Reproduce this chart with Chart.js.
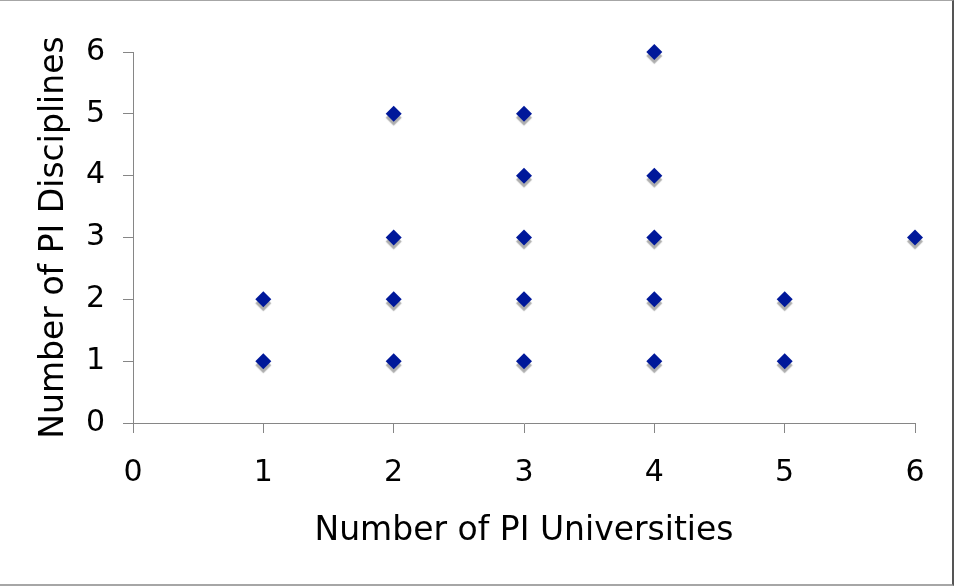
<!DOCTYPE html>
<html>
<head>
<meta charset="utf-8">
<script src="https://cdn.jsdelivr.net/npm/chart.js@4/dist/chart.umd.min.js"></script>
<style>
  html, body { margin: 0; padding: 0; background: #fff; }
  #wrap { position: relative; width: 954px; height: 586px; }
  #frame { position: absolute; left: 0; top: 0; width: 954px; height: 586px; box-sizing: border-box;
           border-top: 1px solid #a6a6a6; border-right: 2px solid #555;
           border-bottom: 2px solid #a6a6a6; pointer-events: none; }
  canvas { position: absolute; left: 0; top: 0; }
</style>
</head>
<body>
<div id="wrap">
  <canvas id="piChart" width="954" height="586"></canvas>
  <div id="frame"></div>
</div>
<script>
// PI universities vs PI disciplines
var universities = [1, 1, 2, 2, 2, 2, 3, 3, 3, 3, 3, 4, 4, 4, 4, 4, 5, 5, 6];
var disciplines  = [1, 2, 1, 2, 3, 5, 1, 2, 3, 4, 5, 1, 2, 3, 4, 6, 1, 2, 3];
var axisTicks = [0, 1, 2, 3, 4, 5, 6];

var points = [];
for (var i = 0; i < universities.length; i++) {
    points.push({ x: universities[i], y: disciplines[i] });
}

// grey drop shadow under the markers
var markerShadow = {
    id: 'markerShadow',
    beforeDatasetsDraw: function (chart) {
        var ctx = chart.ctx;
        ctx.save();
        ctx.shadowColor = 'rgba(120, 120, 120, 0.6)';
        ctx.shadowOffsetX = 0;
        ctx.shadowOffsetY = 4;
        ctx.shadowBlur = 1;
    },
    afterDatasetsDraw: function (chart) {
        chart.ctx.restore();
    }
};

var font = "'DejaVu Sans', Verdana, sans-serif";
var ctx = document.getElementById("piChart");
var myChart = new Chart(ctx, {
    type: 'scatter',
    data: {
        datasets: [{
            label: 'PI',
            data: points,
            pointStyle: 'rectRot',
            pointRadius: 8,
            pointHoverRadius: 8,
            backgroundColor: '#00189a',
            borderColor: '#00189a',
            borderWidth: 0,
            clip: false
        }]
    },
    options: {
        responsive: false,
        animation: false,
        events: [],
        layout: { padding: { left: 0, top: 52, right: 39, bottom: 0 } },
        plugins: { legend: { display: false }, tooltip: { enabled: false } },
        scales: {
            x: {
                type: 'linear',
                min: 0,
                max: 6,
                afterBuildTicks: function (scale) {
                    scale.ticks = axisTicks.map(function (v) { return { value: v }; });
                },
                afterFit: function (scale) { scale.height = 163; },
                border: { display: true, color: '#868686', width: 1 },
                grid: { drawOnChartArea: false, drawTicks: true, tickLength: 10, color: '#868686' },
                ticks: { color: '#000', padding: 22, font: { family: font, size: 30 } },
                title: {
                    display: true,
                    text: 'Number of PI Universities',
                    color: '#000',
                    padding: { top: 0, bottom: 35 },
                    font: { family: font, size: 33 }
                }
            },
            y: {
                type: 'linear',
                min: 0,
                max: 6,
                afterBuildTicks: function (scale) {
                    scale.ticks = axisTicks.map(function (v) { return { value: v }; });
                },
                afterFit: function (scale) { scale.width = 133; },
                border: { display: true, color: '#868686', width: 1 },
                grid: { drawOnChartArea: false, drawTicks: true, tickLength: 10, color: '#868686' },
                ticks: { color: '#000', padding: 18, font: { family: font, size: 30 } },
                title: {
                    display: true,
                    text: 'Number of PI Disciplines',
                    color: '#000',
                    padding: { top: 35, bottom: 0 },
                    font: { family: font, size: 33 }
                }
            }
        }
    },
    plugins: [markerShadow]
});
</script>
</body>
</html>
